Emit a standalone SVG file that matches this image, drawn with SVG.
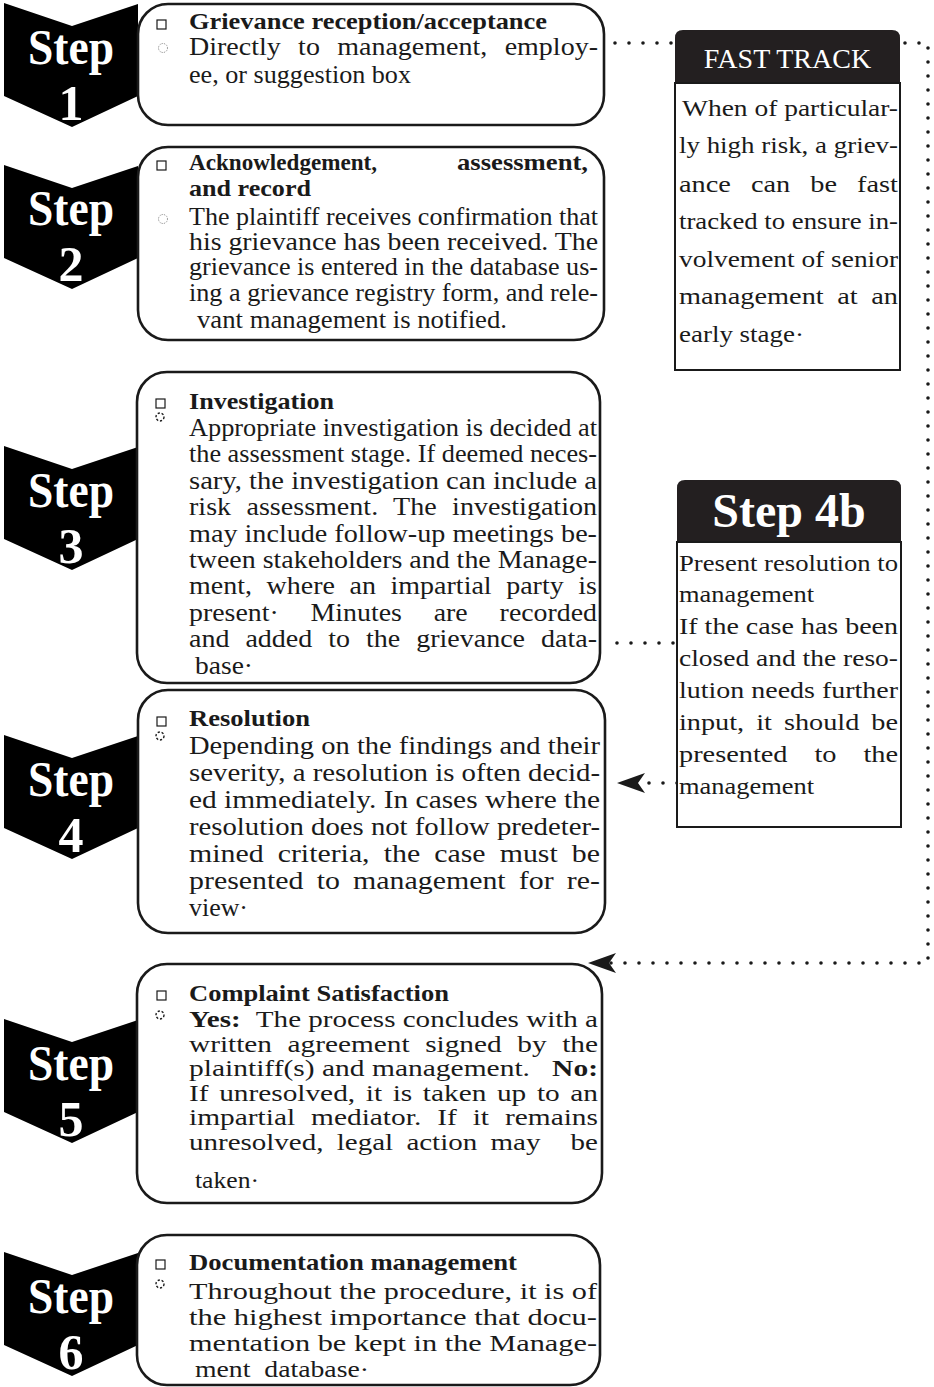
<svg xmlns="http://www.w3.org/2000/svg" width="934" height="1387" viewBox="0 0 934 1387">
<style>
.bg{fill:#fff}
.box{fill:#fff;stroke:#1a1a1a;stroke-width:2.6}
.chev{fill:#000}
.chevt{font-family:"Liberation Serif",serif;font-weight:bold;font-size:50px;fill:#fff;text-anchor:middle}
.t{font-family:"Liberation Serif",serif;font-size:25px;fill:#1a1a1a}
.t4{font-family:"Liberation Serif",serif;font-size:25.5px;fill:#1a1a1a}
.t5{font-family:"Liberation Serif",serif;font-size:24px;fill:#1a1a1a}
.b{font-family:"Liberation Serif",serif;font-size:24px;font-weight:bold;fill:#1a1a1a}
.sq{fill:none;stroke:#1a1a1a;stroke-width:1.2}
.c1{fill:none;stroke:#888;stroke-width:1;stroke-dasharray:1.2 1.2}
.c2{fill:none;stroke:#1a1a1a;stroke-width:1.4;stroke-dasharray:2.2 1.8}
.hdr{fill:#231f20}
.sbox{fill:#fff;stroke:#1a1a1a;stroke-width:2}
.st{font-family:"Liberation Serif",serif;font-size:24px;fill:#1a1a1a}
.dot{fill:none;stroke:#1a1a1a;stroke-width:3.6;stroke-linecap:round;stroke-dasharray:0 14}
</style>
<defs>
<marker id="arrow" markerUnits="userSpaceOnUse" markerWidth="28" markerHeight="24" viewBox="0 0 28 24" refX="7" refY="12" orient="auto">
<path d="M0,2 L28,12 L0,22 L7,12 Z" fill="#1a1a1a"/>
</marker>
<path id="chevshape" d="M4,0 L72,23 L138,1 L138,93 L72,124 L4,93 Z"/>
</defs>
<rect class="bg" x="0" y="0" width="934" height="1387"/>

<g id="connectors">
<path class="dot" d="M615,43 H672"/>
<path class="dot" d="M905,43 H928 V963 H609" marker-end="url(#arrow)"/>
<path class="dot" d="M617,643 H677"/>
<path class="dot" d="M677,783 H638" marker-end="url(#arrow)"/>
</g>

<g id="step1">
<use href="#chevshape" class="chev" transform="translate(0,3)"/>
<text class="chevt" x="71" y="64" textLength="86" lengthAdjust="spacingAndGlyphs">Step</text>
<text class="chevt" x="71" y="120">1</text>
<rect class="box" x="138" y="4" width="466" height="121" rx="30"/>
<rect class="sq" x="157" y="20" width="9" height="9"/>
<text class="b" x="189" y="29" textLength="358" lengthAdjust="spacingAndGlyphs">Grievance reception/acceptance</text>
<circle class="c1" cx="163" cy="48" r="4.5"/>
<text class="t" x="189" y="55" word-spacing="9.2" textLength="409" lengthAdjust="spacingAndGlyphs">Directly to management, employ-</text>
<text class="t" x="189" y="83" textLength="222" lengthAdjust="spacingAndGlyphs">ee, or suggestion box</text>
</g>

<g id="step2">
<use href="#chevshape" class="chev" transform="translate(0,165)"/>
<text class="chevt" x="71" y="225" textLength="86" lengthAdjust="spacingAndGlyphs">Step</text>
<text class="chevt" x="71" y="281">2</text>
<rect class="box" x="138" y="147" width="466" height="193" rx="30"/>
<rect class="sq" x="157" y="161" width="9" height="9"/>
<text class="b" x="189" y="170" textLength="188" lengthAdjust="spacingAndGlyphs">Acknowledgement,</text>
<text class="b" x="457" y="170" textLength="131" lengthAdjust="spacingAndGlyphs">assessment,</text>
<text class="b" x="189" y="196" textLength="122" lengthAdjust="spacingAndGlyphs">and record</text>
<circle class="c1" cx="163" cy="219" r="4.5"/>
<text class="t" x="189" y="225" textLength="409" lengthAdjust="spacingAndGlyphs">The plaintiff receives confirmation that</text>
<text class="t" x="189" y="250" textLength="409" lengthAdjust="spacingAndGlyphs">his grievance has been received. The</text>
<text class="t" x="189" y="275" textLength="409" lengthAdjust="spacingAndGlyphs">grievance is entered in the database us-</text>
<text class="t" x="189" y="301" textLength="409" lengthAdjust="spacingAndGlyphs">ing a grievance registry form, and rele-</text>
<text class="t" x="197" y="328" textLength="310" lengthAdjust="spacingAndGlyphs">vant management is notified.</text>
</g>

<g id="step3">
<use href="#chevshape" class="chev" transform="translate(0,446)"/>
<text class="chevt" x="71" y="507" textLength="86" lengthAdjust="spacingAndGlyphs">Step</text>
<text class="chevt" x="71" y="563">3</text>
<rect class="box" x="137" y="372" width="463" height="311" rx="30"/>
<rect class="sq" x="156" y="399" width="9" height="9"/>
<text class="b" x="189" y="409" textLength="145" lengthAdjust="spacingAndGlyphs">Investigation</text>
<circle class="c2" cx="160" cy="417" r="4"/>
<text class="t" x="189" y="436" textLength="408" lengthAdjust="spacingAndGlyphs">Appropriate investigation is decided at</text>
<text class="t" x="189" y="462" textLength="408" lengthAdjust="spacingAndGlyphs">the assessment stage. If deemed neces-</text>
<text class="t" x="189" y="489" textLength="408" lengthAdjust="spacingAndGlyphs">sary, the investigation can include a</text>
<text class="t" x="189" y="515" word-spacing="7.5" textLength="408" lengthAdjust="spacingAndGlyphs">risk assessment. The investigation</text>
<text class="t" x="189" y="542" textLength="408" lengthAdjust="spacingAndGlyphs">may include follow-up meetings be-</text>
<text class="t" x="189" y="568" textLength="408" lengthAdjust="spacingAndGlyphs">tween stakeholders and the Manage-</text>
<text class="t" x="189" y="594" word-spacing="6.8" textLength="408" lengthAdjust="spacingAndGlyphs">ment, where an impartial party is</text>
<text class="t" x="189" y="621" word-spacing="22.4" textLength="408" lengthAdjust="spacingAndGlyphs">present· Minutes are recorded</text>
<text class="t" x="189" y="647" word-spacing="8" textLength="408" lengthAdjust="spacingAndGlyphs">and added to the grievance data-</text>
<text class="t" x="195" y="674" textLength="58" lengthAdjust="spacingAndGlyphs">base·</text>
</g>

<g id="step4">
<use href="#chevshape" class="chev" transform="translate(0,735)"/>
<text class="chevt" x="71" y="796" textLength="86" lengthAdjust="spacingAndGlyphs">Step</text>
<text class="chevt" x="71" y="852">4</text>
<rect class="box" x="138" y="690" width="467" height="243" rx="30"/>
<rect class="sq" x="157" y="717" width="9" height="9"/>
<text class="b" x="189" y="726" textLength="121" lengthAdjust="spacingAndGlyphs">Resolution</text>
<circle class="c2" cx="160" cy="736" r="4"/>
<text class="t4" x="189" y="754" textLength="411" lengthAdjust="spacingAndGlyphs">Depending on the findings and their</text>
<text class="t4" x="189" y="781" textLength="411" lengthAdjust="spacingAndGlyphs">severity, a resolution is often decid-</text>
<text class="t4" x="189" y="808" textLength="411" lengthAdjust="spacingAndGlyphs">ed immediately. In cases where the</text>
<text class="t4" x="189" y="835" textLength="411" lengthAdjust="spacingAndGlyphs">resolution does not follow predeter-</text>
<text class="t4" x="189" y="862" word-spacing="5.7" textLength="411" lengthAdjust="spacingAndGlyphs">mined criteria, the case must be</text>
<text class="t4" x="189" y="889" word-spacing="4.9" textLength="411" lengthAdjust="spacingAndGlyphs">presented to management for re-</text>
<text class="t4" x="189" y="916" textLength="59" lengthAdjust="spacingAndGlyphs">view·</text>
</g>

<g id="step5">
<use href="#chevshape" class="chev" transform="translate(0,1019)"/>
<text class="chevt" x="71" y="1080" textLength="86" lengthAdjust="spacingAndGlyphs">Step</text>
<text class="chevt" x="71" y="1136">5</text>
<rect class="box" x="137" y="964" width="465" height="239" rx="30"/>
<rect class="sq" x="157" y="991" width="9" height="9"/>
<text class="b" x="189" y="1001" textLength="260" lengthAdjust="spacingAndGlyphs">Complaint Satisfaction</text>
<circle class="c2" cx="160" cy="1015" r="4"/>
<text class="t5" x="189" y="1027" textLength="409" lengthAdjust="spacingAndGlyphs"><tspan font-weight="bold">Yes:</tspan><tspan dx="7"> The process concludes with a</tspan></text>
<text class="t5" x="189" y="1051.5" word-spacing="6.8" textLength="409" lengthAdjust="spacingAndGlyphs">written agreement signed by the</text>
<text class="t5" x="189" y="1076" textLength="409" lengthAdjust="spacingAndGlyphs">plaintiff(s) and management.<tspan dx="12" font-weight="bold"> No:</tspan></text>
<text class="t5" x="189" y="1100.5" word-spacing="2.7" textLength="409" lengthAdjust="spacingAndGlyphs">If unresolved, it is taken up to an</text>
<text class="t5" x="189" y="1125" word-spacing="7" textLength="409" lengthAdjust="spacingAndGlyphs">impartial mediator. If it remains</text>
<text class="t5" x="189" y="1149.5" word-spacing="5" textLength="409" lengthAdjust="spacingAndGlyphs">unresolved, legal action may <tspan dx="14">be</tspan></text>
<text class="t5" x="195" y="1188" textLength="64" lengthAdjust="spacingAndGlyphs">taken·</text>
</g>

<g id="step6">
<use href="#chevshape" class="chev" transform="translate(0,1252)"/>
<text class="chevt" x="71" y="1313" textLength="86" lengthAdjust="spacingAndGlyphs">Step</text>
<text class="chevt" x="71" y="1369">6</text>
<rect class="box" x="137" y="1235" width="463" height="150" rx="30"/>
<rect class="sq" x="156" y="1260" width="9" height="9"/>
<text class="b" x="189" y="1270" textLength="328" lengthAdjust="spacingAndGlyphs">Documentation management</text>
<circle class="c2" cx="160" cy="1284" r="4"/>
<text class="t5" x="189" y="1299" textLength="408" lengthAdjust="spacingAndGlyphs">Throughout the procedure, it is of</text>
<text class="t5" x="189" y="1325" textLength="408" lengthAdjust="spacingAndGlyphs">the highest importance that docu-</text>
<text class="t5" x="189" y="1351" textLength="408" lengthAdjust="spacingAndGlyphs">mentation be kept in the Manage-</text>
<text class="t5" x="195" y="1377" word-spacing="6" textLength="174" lengthAdjust="spacingAndGlyphs">ment database·</text>
</g>

<g id="fasttrack">
<path class="hdr" d="M675,83 V38 Q675,30 683,30 H892 Q900,30 900,38 V83 Z"/>
<text x="787.5" y="68" font-family="Liberation Serif, serif" font-size="28" fill="#fff" text-anchor="middle">FAST TRACK</text>
<rect class="sbox" x="675" y="83" width="225" height="287"/>
<text class="st" x="682" y="116" textLength="216" lengthAdjust="spacingAndGlyphs">When of particular-</text>
<text class="st" x="679" y="153" textLength="219" lengthAdjust="spacingAndGlyphs">ly high risk, a griev-</text>
<text class="st" x="679" y="192" word-spacing="11" textLength="219" lengthAdjust="spacingAndGlyphs">ance can be fast</text>
<text class="st" x="679" y="229" textLength="219" lengthAdjust="spacingAndGlyphs">tracked to ensure in-</text>
<text class="st" x="679" y="267" textLength="219" lengthAdjust="spacingAndGlyphs">volvement of senior</text>
<text class="st" x="679" y="304" word-spacing="5.5" textLength="219" lengthAdjust="spacingAndGlyphs">management at an</text>
<text class="st" x="679" y="342" textLength="125" lengthAdjust="spacingAndGlyphs">early stage·</text>
</g>

<g id="step4b">
<path class="hdr" d="M677,542 V488 Q677,480 685,480 H893 Q901,480 901,488 V542 Z"/>
<text x="789" y="527" font-family="Liberation Serif, serif" font-size="48" font-weight="bold" fill="#fff" text-anchor="middle">Step 4b</text>
<rect class="sbox" x="677" y="542" width="224" height="285"/>
<text class="st" x="679" y="571" textLength="219" lengthAdjust="spacingAndGlyphs">Present resolution to</text>
<text class="st" x="679" y="602" textLength="135" lengthAdjust="spacingAndGlyphs">management</text>
<text class="st" x="679" y="634" textLength="219" lengthAdjust="spacingAndGlyphs">If the case has been</text>
<text class="st" x="679" y="666" textLength="219" lengthAdjust="spacingAndGlyphs">closed and the reso-</text>
<text class="st" x="679" y="698" textLength="219" lengthAdjust="spacingAndGlyphs">lution needs further</text>
<text class="st" x="679" y="730" word-spacing="4.2" textLength="219" lengthAdjust="spacingAndGlyphs">input, it should be</text>
<text class="st" x="679" y="762" word-spacing="16.8" textLength="219" lengthAdjust="spacingAndGlyphs">presented to the</text>
<text class="st" x="679" y="794" textLength="135" lengthAdjust="spacingAndGlyphs">management</text>
</g>
</svg>
